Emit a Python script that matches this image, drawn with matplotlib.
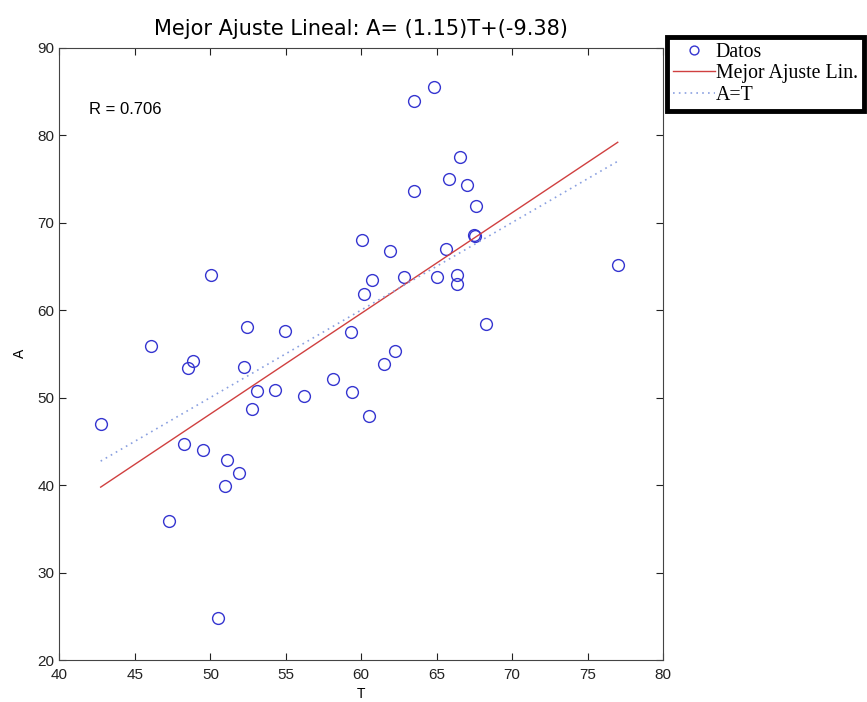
import matplotlib
matplotlib.use("Agg")
import matplotlib.pyplot as plt
import numpy as np

# Data
T = [46.08, 48.51, 48.86, 52.24, 53.12, 54.27, 56.21, 58.13, 59.37, 52.79,
     42.73, 48.27, 49.50, 51.07, 51.87, 50.94, 47.27, 50.48,
     50.05, 52.46, 54.95, 59.35,
     64.82, 63.50, 66.52, 65.79, 67.03, 63.50, 67.58, 67.47, 67.55, 60.08,
     61.91, 65.64, 60.74, 62.84, 65.05, 66.32, 66.37, 60.21, 77.00, 68.29,
     62.26, 61.49, 60.50]
A = [55.85, 53.40, 54.20, 53.50, 50.78, 50.90, 50.20, 52.15, 50.60, 48.65,
     47.00, 44.70, 44.00, 42.86, 41.37, 39.92, 35.89, 24.83,
     64.00, 58.10, 57.63, 57.50,
     85.52, 83.85, 77.52, 74.94, 74.25, 73.63, 71.92, 68.57, 68.50, 68.00,
     66.74, 66.94, 63.43, 63.80, 63.73, 64.00, 62.94, 61.80, 65.18, 58.40,
     55.35, 53.80, 47.90]
slope = 1.15
intercept = -9.38
r_value = 0.706
title = "Mejor Ajuste Lineal: A= (1.15)T+(-9.38)"
legend_labels = ["Datos", "Mejor Ajuste Lin.", "A=T"]
xticks = [40, 45, 50, 55, 60, 65, 70, 75, 80]
yticks = [20, 30, 40, 50, 60, 70, 80, 90]

fig = plt.figure(figsize=(8.67, 7.02), dpi=100)
ax = fig.add_axes([0.0686, 0.0598, 0.6961, 0.8725])

tmin, tmax = min(T), max(T)
xs = np.array([tmin, tmax])

h1, = ax.plot(T, A, 'o', mfc='none', mec='#3535d0', mew=1.0, ms=8.5, linestyle='none')
h2, = ax.plot(xs, slope * xs + intercept, color='#d04040', lw=1.0)
h3, = ax.plot(xs, xs, color='#8aa0e0', lw=1.2, linestyle=(0, (1, 2.5)))

ax.set_xlim(40, 80)
ax.set_ylim(20, 90)
ax.set_xticks(xticks)
ax.set_yticks(yticks)
ax.tick_params(direction='in', top=True, right=True, length=5, width=0.8,
               labelsize=11, colors='#222222')
ax.tick_params(axis='x', pad=6)
for lab in ax.get_xticklabels() + ax.get_yticklabels():
    lab.set_fontfamily('Liberation Sans')
for s in ax.spines.values():
    s.set_color('#444444')
    s.set_linewidth(0.8)

ax.set_xlabel('T', fontsize=10, family='Liberation Sans', labelpad=3)
ax.set_ylabel('A', fontsize=10, family='Liberation Sans', labelpad=8)
ax.set_title(title, fontsize=15, family='DejaVu Sans', pad=9)

ax.text(41.95, 82.97, f"R = {r_value:.3f}", fontsize=12, family='Liberation Sans',
        va='center', ha='left')

leg = fig.legend([h1, h2, h3], legend_labels, loc='upper left',
                 bbox_to_anchor=(667 / 867, 1 - 37 / 702),
                 prop={'family': 'Liberation Serif', 'size': 14.3},
                 frameon=True, fancybox=False, edgecolor='black', framealpha=1,
                 borderpad=0.3, labelspacing=0.12, handlelength=2.1,
                 handletextpad=0.05, borderaxespad=0, markerscale=0.75)
leg.get_frame().set_linewidth(3.5)

fig.savefig('out.png', dpi=100)
